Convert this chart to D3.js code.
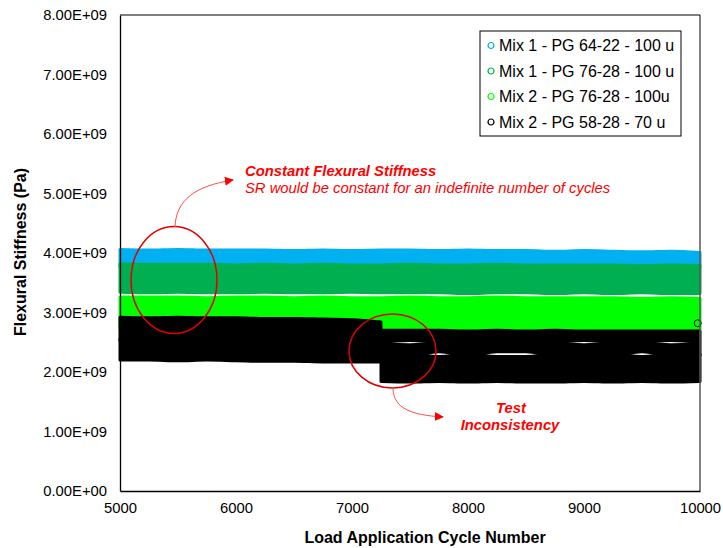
<!DOCTYPE html>
<html>
<head>
<meta charset="utf-8">
<script src="https://cdn.jsdelivr.net/npm/d3@7"></script>
<style>
  body { margin: 0; background: #fff; }
  svg { font-family: "Liberation Sans", Arial, sans-serif; }
</style>
</head>
<body>
<div class="vis"></div>
<script>
// values in units of 1E+09 Pa, every 250 cycles
var cycles = [5000, 5250, 5500, 5750, 6000, 6250, 6500, 6750, 7000, 7250, 7500,
              7750, 8000, 8250, 8500, 8750, 9000, 9250, 9500, 9750, 10000];

var mix1_6422_hi = [4.06, 4.05, 4.06, 4.05, 4.05, 4.05, 4.04, 4.05, 4.04, 4.05, 4.05,
                    4.04, 4.05, 4.04, 4.04, 4.03, 4.04, 4.03, 4.02, 4.03, 4.01];
var mix1_6422_lo = [3.76, 3.76, 3.76, 3.76, 3.76, 3.76, 3.76, 3.76, 3.76, 3.76, 3.76,
                    3.76, 3.76, 3.76, 3.76, 3.76, 3.76, 3.76, 3.76, 3.76, 3.76];

var mix1_7628_hi = [3.82, 3.81, 3.81, 3.81, 3.80, 3.81, 3.80, 3.81, 3.80, 3.80, 3.81,
                    3.80, 3.80, 3.81, 3.80, 3.80, 3.80, 3.80, 3.79, 3.80, 3.79];
var mix1_7628_lo = [3.34, 3.33, 3.34, 3.33, 3.33, 3.34, 3.33, 3.33, 3.34, 3.33, 3.33,
                    3.33, 3.32, 3.33, 3.33, 3.32, 3.33, 3.32, 3.33, 3.32, 3.32];

var mix2_7628_hi = [3.26, 3.26, 3.26, 3.25, 3.26, 3.26, 3.25, 3.26, 3.25, 3.25, 3.26,
                    3.25, 3.25, 3.26, 3.25, 3.25, 3.25, 3.25, 3.24, 3.25, 3.24];
var mix2_7628_lo = [2.73, 2.73, 2.73, 2.73, 2.73, 2.73, 2.73, 2.73, 2.73, 2.73, 2.72,
                    2.72, 2.72, 2.72, 2.72, 2.72, 2.72, 2.72, 2.72, 2.72, 2.72];

// Mix 2 - PG 58-28 drops at ~7250 cycles; each part is made of overlapping stripes
var mix2_5828_early = [5000, 5250, 5500, 5750, 6000, 6250, 6500, 6750, 7000, 7250];
var mix2_5828_a_hi  = [2.92, 2.91, 2.92, 2.91, 2.91, 2.90, 2.90, 2.89, 2.88, 2.84];
var mix2_5828_a_lo  = [2.53, 2.55, 2.53, 2.54, 2.55, 2.53, 2.54, 2.55, 2.53, 2.53];
var mix2_5828_b_hi  = [2.56, 2.53, 2.56, 2.55, 2.53, 2.56, 2.55, 2.53, 2.56, 2.55];
var mix2_5828_b_lo  = [2.20, 2.20, 2.19, 2.20, 2.19, 2.18, 2.18, 2.17, 2.17, 2.17];

var mix2_5828_late = [7250, 7500, 7750, 8000, 8250, 8500, 8750, 9000, 9250, 9500, 9750, 10000];
var mix2_5828_c_hi = [2.70, 2.70, 2.70, 2.69, 2.70, 2.69, 2.70, 2.69, 2.69, 2.69, 2.69, 2.69];
var mix2_5828_c_lo = [2.50, 2.53, 2.50, 2.50, 2.50, 2.50, 2.50, 2.53, 2.50, 2.50, 2.53, 2.50];
var mix2_5828_d_hi = [2.48, 2.46, 2.48, 2.48, 2.48, 2.48, 2.48, 2.46, 2.48, 2.48, 2.46, 2.48];
var mix2_5828_d_lo = [2.28, 2.28, 2.34, 2.28, 2.34, 2.34, 2.28, 2.28, 2.28, 2.34, 2.28, 2.28];
var mix2_5828_e_hi = [2.30, 2.30, 2.26, 2.30, 2.26, 2.26, 2.30, 2.30, 2.30, 2.26, 2.30, 2.30];
var mix2_5828_e_lo = [1.84, 1.83, 1.84, 1.83, 1.84, 1.83, 1.83, 1.84, 1.83, 1.84, 1.83, 1.84];

var outliers = [{ cycle: 9980, value: 2.82 }];

var seriesNames  = ["Mix 1 - PG 64-22 - 100 u", "Mix 1 - PG 76-28 - 100 u",
                    "Mix 2 - PG 76-28 - 100u", "Mix 2 - PG 58-28 - 70 u"];
var seriesColors = ["#00b0f0", "#00b050", "#00ff00", "#000000"];

var yTicks = [0, 1, 2, 3, 4, 5, 6, 7, 8];
var xTicks = [5000, 6000, 7000, 8000, 9000, 10000];

var chart = {

  hold: {},

  setUp: function(){
    chart.hold.svg = d3.select(".vis").append("svg")
      .attr("width", 723)
      .attr("height", 548);

    chart.hold.x = d3.scaleLinear().domain([5000, 10000]).range([120, 700]);
    chart.hold.y = d3.scaleLinear().domain([0, 8e9]).range([491, 15]);

    chart.drawSeries();
    chart.drawAxes();
    chart.drawLegend();
    chart.drawNotes();
  },

  band: function(xs, hi, lo, color){
    var x = chart.hold.x, y = chart.hold.y;
    var rows = xs.map(function(c, i){ return { c: c, hi: hi[i], lo: lo[i] }; });
    var area = d3.area()
      .x(function(d){ return x(d.c); })
      .y0(function(d){ return y(d.lo * 1e9); })
      .y1(function(d){ return y(d.hi * 1e9); })
      .curve(d3.curveMonotoneX);
    chart.hold.svg.append("path")
      .datum(rows)
      .attr("d", area)
      .attr("fill", color)
      .attr("stroke", color)
      .attr("stroke-width", 3)
      .attr("stroke-linejoin", "round");
  },

  drawSeries: function(){
    chart.band(cycles, mix1_6422_hi, mix1_6422_lo, seriesColors[0]);
    chart.band(cycles, mix1_7628_hi, mix1_7628_lo, seriesColors[1]);
    chart.band(cycles, mix2_7628_hi, mix2_7628_lo, seriesColors[2]);
    chart.band(mix2_5828_early, mix2_5828_a_hi, mix2_5828_a_lo, seriesColors[3]);
    chart.band(mix2_5828_early, mix2_5828_b_hi, mix2_5828_b_lo, seriesColors[3]);
    chart.band(mix2_5828_late, mix2_5828_c_hi, mix2_5828_c_lo, seriesColors[3]);
    chart.band(mix2_5828_late, mix2_5828_d_hi, mix2_5828_d_lo, seriesColors[3]);
    chart.band(mix2_5828_late, mix2_5828_e_hi, mix2_5828_e_lo, seriesColors[3]);

    chart.hold.svg.selectAll("circle.outlier")
      .data(outliers)
      .enter()
      .append("circle")
        .attr("class", "outlier")
        .attr("cx", function(d){ return chart.hold.x(d.cycle); })
        .attr("cy", function(d){ return chart.hold.y(d.value * 1e9); })
        .attr("r", 3.5)
        .attr("fill", "none")
        .attr("stroke", "#000")
        .attr("stroke-width", 1);
  },

  drawAxes: function(){
    var svg = chart.hold.svg, x = chart.hold.x, y = chart.hold.y;

    // plot frame
    svg.append("line").attr("x1", 700).attr("x2", 700).attr("y1", 15).attr("y2", 491)
      .attr("stroke", "#595959").attr("stroke-width", 1.5);
    svg.append("line").attr("x1", 120).attr("x2", 700).attr("y1", 15).attr("y2", 15)
      .attr("stroke", "#000").attr("stroke-width", 1);

    var yAxis = d3.axisLeft(y)
      .tickValues(yTicks.map(function(v){ return v * 1e9; }))
      .tickSize(0)
      .tickPadding(13)
      .tickFormat(function(v){
        var e = v === 0 ? 0 : Math.floor(Math.log10(v));
        var m = (v / Math.pow(10, e)).toFixed(2);
        return m + "E+" + (e < 10 ? "0" + e : e);
      });
    var gy = svg.append("g").attr("transform", "translate(120,0)").call(yAxis);
    gy.select(".domain").attr("stroke", "#000").attr("stroke-width", 1.3);
    gy.selectAll("text").attr("font-size", 14.8).attr("fill", "#000")
      .attr("font-family", "Liberation Sans, Arial, sans-serif");

    var xAxis = d3.axisBottom(x).tickValues(xTicks).tickSize(0).tickPadding(11)
      .tickFormat(d3.format("d"));
    var gx = svg.append("g").attr("transform", "translate(0,491)").call(xAxis);
    gx.select(".domain").attr("stroke", "#000").attr("stroke-width", 1.3);
    gx.selectAll("text").attr("font-size", 14.8).attr("fill", "#000")
      .attr("font-family", "Liberation Sans, Arial, sans-serif");

    svg.append("text")
      .attr("x", 425).attr("y", 543)
      .attr("text-anchor", "middle")
      .attr("font-size", 16).attr("font-weight", "bold")
      .text("Load Application Cycle Number");

    svg.append("text")
      .attr("transform", "translate(26,252) rotate(-90)")
      .attr("text-anchor", "middle")
      .attr("font-size", 16).attr("font-weight", "bold")
      .text("Flexural Stiffness (Pa)");
  },

  drawLegend: function(){
    var svg = chart.hold.svg;
    svg.append("rect")
      .attr("x", 480).attr("y", 31).attr("width", 201).attr("height", 105)
      .attr("fill", "#fff").attr("stroke", "#000").attr("stroke-width", 1);

    var rows = svg.selectAll("g.legend-row")
      .data(seriesNames)
      .enter()
      .append("g")
        .attr("class", "legend-row")
        .attr("transform", function(d, i){ return "translate(491," + (45.5 + i * 25.5) + ")"; });

    rows.append("circle")
      .attr("r", 3)
      .attr("fill", "none")
      .attr("stroke", function(d, i){ return seriesColors[i]; })
      .attr("stroke-width", 1.2);

    rows.append("text")
      .attr("x", 8).attr("dy", "0.35em")
      .attr("font-size", 16)
      .text(function(d){ return d; });
  },

  drawNotes: function(){
    var svg = chart.hold.svg;

    svg.append("defs").append("marker")
      .attr("id", "arrow")
      .attr("viewBox", "0 0 10 10")
      .attr("refX", 9).attr("refY", 5)
      .attr("markerWidth", 9).attr("markerHeight", 9)
      .attr("orient", "auto")
      .append("path")
        .attr("d", "M0,0 L10,5 L0,10 z")
        .attr("fill", "#ff0000");

    svg.append("ellipse")
      .attr("cx", 174).attr("cy", 280).attr("rx", 43).attr("ry", 53.5)
      .attr("fill", "none").attr("stroke", "#e00000").attr("stroke-width", 1.5);
    svg.append("ellipse")
      .attr("cx", 392.5).attr("cy", 351).attr("rx", 43.5).attr("ry", 37)
      .attr("fill", "none").attr("stroke", "#e00000").attr("stroke-width", 1.5);

    svg.append("path")
      .attr("d", "M175,227 C176,200 195,186 233,180")
      .attr("fill", "none").attr("stroke", "#ff4d4d").attr("stroke-width", 1)
      .attr("marker-end", "url(#arrow)");
    svg.append("path")
      .attr("d", "M393,389 C394,408 410,415 443,417")
      .attr("fill", "none").attr("stroke", "#ff4d4d").attr("stroke-width", 1)
      .attr("marker-end", "url(#arrow)");

    svg.append("text")
      .attr("x", 245).attr("y", 176)
      .attr("fill", "#ff0000").attr("font-size", 14.8)
      .attr("font-weight", "bold").attr("font-style", "italic")
      .text("Constant Flexural Stiffness");
    svg.append("text")
      .attr("x", 245).attr("y", 193)
      .attr("fill", "#ff0000").attr("font-size", 14.8)
      .attr("font-style", "italic")
      .text("SR would be constant for an indefinite number of cycles");

    svg.append("text")
      .attr("x", 511).attr("y", 413)
      .attr("text-anchor", "middle")
      .attr("fill", "#ff0000").attr("font-size", 14.8)
      .attr("font-weight", "bold").attr("font-style", "italic")
      .text("Test");
    svg.append("text")
      .attr("x", 510).attr("y", 430)
      .attr("text-anchor", "middle")
      .attr("fill", "#ff0000").attr("font-size", 14.8)
      .attr("font-weight", "bold").attr("font-style", "italic")
      .text("Inconsistency");
  }

};

chart.setUp();
</script>
</body>
</html>
